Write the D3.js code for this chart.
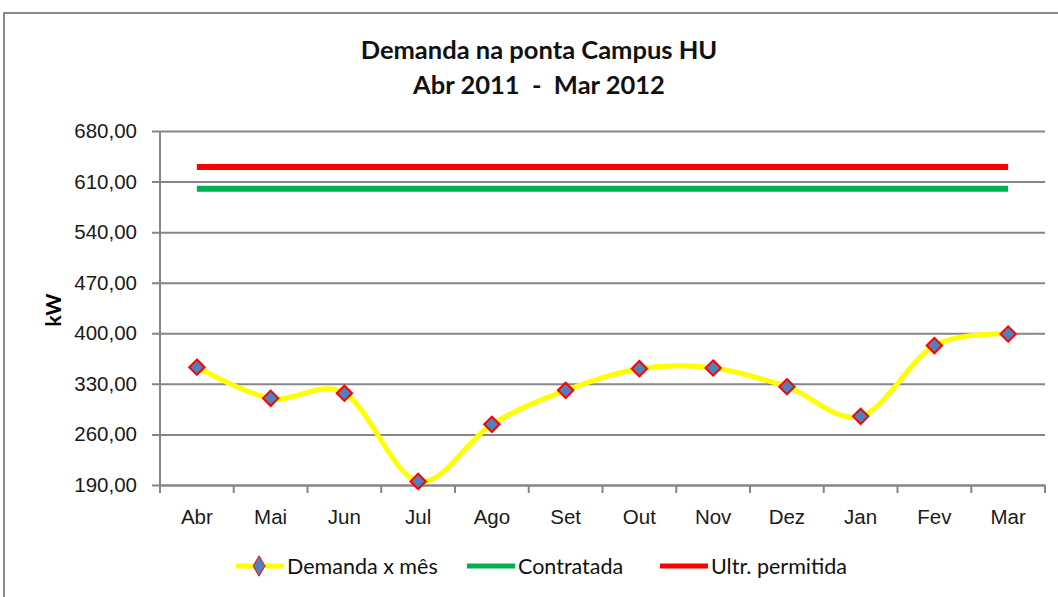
<!DOCTYPE html>
<html>
<head>
<meta charset="utf-8">
<style>
  body { margin: 0; background: #fff; }
  svg { display: block; font-family: Lato, "Open Sans", sans-serif; }
  .grid line { stroke: #868686; stroke-width: 2; }
  .tick text { fill: #1a1a1a; }
</style>
<script src="https://d3js.org/d3.v7.min.js"></script>
</head>
<body>
<svg width="1058" height="597"></svg>
<script>
  const months = ['Abr', 'Mai', 'Jun', 'Jul', 'Ago', 'Set', 'Out', 'Nov', 'Dez', 'Jan', 'Fev', 'Mar'];
  const demanda = [353, 310, 317, 195, 274, 321, 351, 352, 326, 285, 383, 399];
  const contratada = [600, 600, 600, 600, 600, 600, 600, 600, 600, 600, 600, 600];
  const ultrapassagem = [630, 630, 630, 630, 630, 630, 630, 630, 630, 630, 630, 630];
  const yTicks = [190, 260, 330, 400, 470, 540, 610, 680];

  const svg = d3.select('svg');
  const plotLeft = 160, plotRight = 1045, plotTop = 131, plotBottom = 485;

  // chart frame
  svg.append('rect')
    .attr('x', 4).attr('y', 13).attr('width', 1070).attr('height', 600)
    .attr('fill', 'none').attr('stroke', '#8a8a8a').attr('stroke-width', 2);

  const x = d3.scaleBand().domain(months).range([plotLeft, plotRight]);
  const y = d3.scaleLinear().domain([190, 680]).range([plotBottom, plotTop]);
  const cx = m => x(m) + x.bandwidth() / 2;

  // gridlines + y axis
  const yAxis = svg.append('g')
    .attr('class', 'grid')
    .attr('transform', `translate(${plotLeft},0)`)
    .call(d3.axisLeft(y).tickValues(yTicks).tickSize(-(plotRight - plotLeft)).tickSizeOuter(0)
      .tickFormat(d => d3.format('.2f')(d).replace('.', ',')));
  yAxis.select('.domain').remove();
  yAxis.selectAll('.tick line').attr('x1', -8);
  yAxis.selectAll('.tick text').attr('x', -23).attr('font-size', 20.5);

  svg.append('line')
    .attr('x1', plotLeft).attr('x2', plotLeft).attr('y1', plotTop).attr('y2', plotBottom)
    .attr('stroke', '#868686').attr('stroke-width', 2);

  // x axis
  const xAxis = svg.append('g')
    .attr('transform', `translate(0,${plotBottom})`)
    .call(d3.axisBottom(x).tickSize(0));
  xAxis.select('.domain').attr('stroke', '#868686').attr('stroke-width', 2);
  xAxis.selectAll('.tick text').attr('font-size', 20.5).attr('dy', 0).attr('y', 39);
  svg.append('g').selectAll('line')
    .data(d3.range(months.length + 1))
    .join('line')
    .attr('x1', i => plotLeft + i * x.step()).attr('x2', i => plotLeft + i * x.step())
    .attr('y1', plotBottom).attr('y2', plotBottom + 8)
    .attr('stroke', '#868686').attr('stroke-width', 2);

  // title
  const title = svg.append('text').attr('text-anchor', 'middle').attr('font-size', 25.5)
    .attr('font-weight', 'bold').attr('fill', '#111');
  title.append('tspan').attr('x', 539).attr('y', 59).text('Demanda na ponta Campus HU');
  title.append('tspan').attr('x', 539).attr('y', 94).attr('xml:space', 'preserve').text('Abr 2011  -  Mar 2012');

  // y title
  svg.append('text')
    .attr('transform', 'translate(61,310) rotate(-90)')
    .attr('text-anchor', 'middle').attr('font-size', 21).attr('font-weight', 'bold')
    .text('kW');

  // flat lines
  const flat = d3.line().x((d, i) => cx(months[i])).y(d => y(d));
  svg.append('path').datum(contratada).attr('d', flat)
    .attr('fill', 'none').attr('stroke', '#00b050').attr('stroke-width', 6);
  svg.append('path').datum(ultrapassagem).attr('d', flat)
    .attr('fill', 'none').attr('stroke', '#ff0000').attr('stroke-width', 6);

  // demand line
  const smooth = d3.line().x((d, i) => cx(months[i])).y(d => y(d)).curve(d3.curveCardinal.tension(0));
  svg.append('path').datum(demanda).attr('d', smooth)
    .attr('fill', 'none').attr('stroke', '#ffff00').attr('stroke-width', 5);

  const diamond = d3.symbol().type(d3.symbolDiamond2).size(150);
  svg.append('g').selectAll('path')
    .data(demanda)
    .join('path')
    .attr('d', diamond)
    .attr('transform', (d, i) => `translate(${cx(months[i])},${y(d)})`)
    .attr('fill', '#4f81bd').attr('stroke', '#ff0000').attr('stroke-width', 2);

  // legend
  const legend = [
    { label: 'Demanda x mês', color: '#ffff00', x: 236, marker: true },
    { label: 'Contratada', color: '#00b050', x: 467 },
    { label: 'Ultr. permitida', color: '#ff0000', x: 660 }
  ];
  const lg = svg.append('g').selectAll('g').data(legend).join('g')
    .attr('transform', d => `translate(${d.x},566)`);
  lg.append('line').attr('x1', 0).attr('x2', 48).attr('stroke', d => d.color).attr('stroke-width', 5);
  lg.filter(d => d.marker).append('path')
    .attr('d', d3.symbol().type(d3.symbolDiamond).size(120))
    .attr('transform', 'translate(23,0)')
    .attr('fill', '#4f81bd').attr('stroke', '#ff0000').attr('stroke-width', 1);
  lg.append('text').attr('x', 51).attr('dy', '0.35em').attr('font-size', 21.5).attr('fill', '#111')
    .text(d => d.label);
</script>
</body>
</html>
